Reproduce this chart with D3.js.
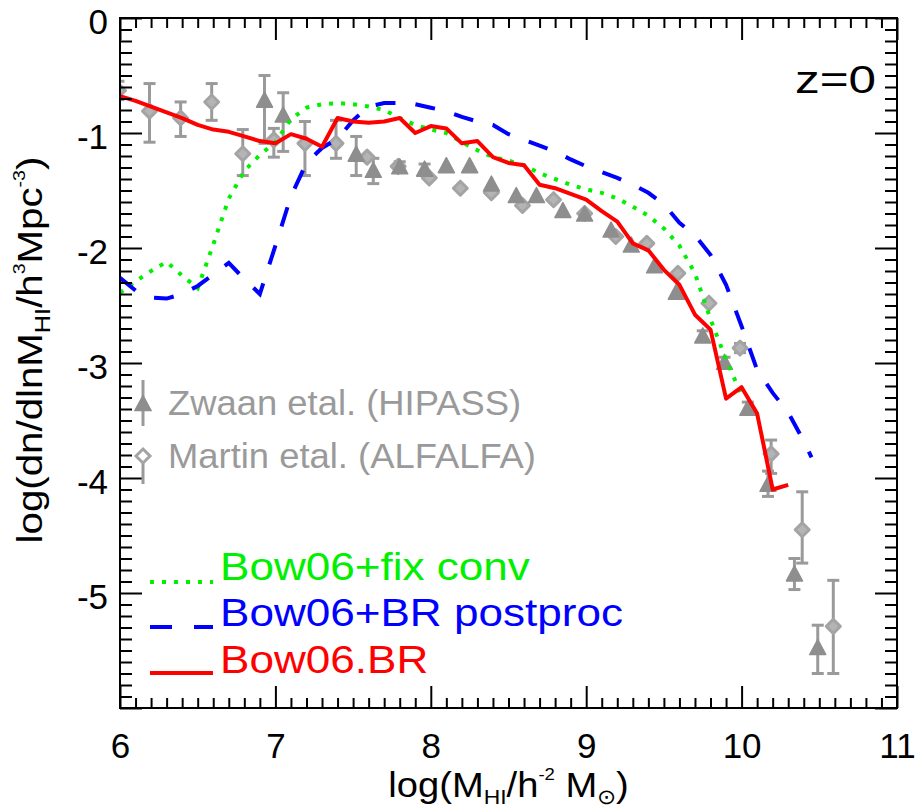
<!DOCTYPE html>
<html>
<head>
<meta charset="utf-8">
<script src="https://cdn.jsdelivr.net/npm/d3@7"></script>
<style>
  body { margin: 0; background: #fff; }
  svg { display: block; font-family: "Liberation Sans", Arial, Helvetica, sans-serif; }
</style>
</head>
<body>
<svg id="chart" width="915" height="809"></svg>
<script>
// ---- Model HI mass functions (log M_HI, log dn/dlnM) ----
const fixConvMass = [6.0,6.1,6.2,6.3,6.4,6.5,6.6,6.7,6.8,6.9,7.0,7.1,7.2,7.3,7.4,7.5,7.6,7.7,7.8,7.9,
  8.0,8.1,8.2,8.3,8.4,8.5,8.6,8.7,8.8,8.9,9.0,9.1,9.2,9.3,9.4,9.5,9.6,9.7,9.8,9.9,10.0];
const fixConvPhi = [-2.39,-2.29,-2.20,-2.12,-2.24,-2.35,-1.97,-1.57,-1.33,-1.19,-1.08,-0.88,-0.78,-0.75,-0.74,-0.75,-0.77,-0.80,-0.87,-0.93,
  -0.97,-1.00,-1.08,-1.15,-1.21,-1.24,-1.28,-1.35,-1.40,-1.45,-1.49,-1.52,-1.57,-1.64,-1.72,-1.83,-1.98,-2.22,-2.62,-2.97,-3.28];

const postprocMass = [6.0,6.1,6.2,6.3,6.4,6.5,6.6,6.7,6.8,6.9,7.0,7.1,7.2,7.3,7.4,7.5,7.6,7.7,7.8,7.9,
  8.0,8.1,8.2,8.3,8.4,8.5,8.6,8.7,8.8,8.9,9.0,9.1,9.2,9.3,9.4,9.5,9.6,9.7,9.8,9.9,10.0,10.1,10.2,10.3,10.4,10.45];
const postprocPhi = [-2.26,-2.37,-2.43,-2.44,-2.40,-2.33,-2.23,-2.13,-2.27,-2.40,-1.98,-1.55,-1.26,-1.13,-1.05,-0.89,-0.77,-0.74,-0.74,-0.75,
  -0.78,-0.81,-0.86,-0.90,-0.93,-1.01,-1.06,-1.11,-1.16,-1.23,-1.29,-1.34,-1.39,-1.45,-1.52,-1.62,-1.78,-1.89,-2.06,-2.32,-2.68,-3.06,-3.26,-3.43,-3.68,-3.82];

const brMass = [6.0,6.1,6.2,6.3,6.4,6.5,6.6,6.7,6.8,6.9,7.0,7.1,7.2,7.3,7.4,7.5,7.6,7.7,7.8,7.9,
  8.0,8.1,8.2,8.3,8.4,8.5,8.6,8.7,8.8,8.9,9.0,9.1,9.2,9.3,9.4,9.5,9.6,9.7,9.8,9.9,10.0,10.1,10.2,10.3];
const brPhi = [-0.68,-0.72,-0.77,-0.82,-0.87,-0.93,-0.97,-0.99,-1.03,-1.07,-1.09,-1.01,-1.05,-1.12,-0.87,-0.90,-0.91,-0.90,-0.87,-1.00,
  -0.94,-0.96,-1.09,-1.07,-1.21,-1.26,-1.28,-1.45,-1.48,-1.53,-1.58,-1.68,-1.77,-1.96,-2.02,-2.19,-2.32,-2.58,-2.71,-3.31,-3.21,-3.44,-4.10,-4.06];

// ---- Observations: Zwaan et al. (HIPASS) ----
const zwaanMass = [6.93,7.05,7.52,7.63,7.80,7.96,8.10,8.25,8.39,8.55,8.68,8.85,8.99,9.16,9.29,9.44,9.58,9.75,9.89,10.04,10.17,10.34,10.49];
const zwaanPhi  = [-0.71,-0.84,-1.18,-1.32,-1.29,-1.31,-1.28,-1.28,-1.44,-1.54,-1.54,-1.67,-1.70,-1.84,-1.97,-2.15,-2.38,-2.76,-2.99,-3.39,-4.05,-4.83,-5.47];
const zwaanHi   = [-0.50,-0.65,-1.03,-1.22,-1.25,-1.27,-1.25,-1.25,-1.41,-1.51,-1.51,-1.64,-1.67,-1.81,-1.94,-2.12,-2.35,-2.72,-2.95,-3.34,-3.94,-4.70,-5.28];
const zwaanLo   = [-1.09,-1.16,-1.37,-1.44,-1.33,-1.35,-1.31,-1.31,-1.47,-1.57,-1.57,-1.70,-1.73,-1.87,-2.00,-2.18,-2.41,-2.80,-3.03,-3.44,-4.16,-4.97,-5.70];

// ---- Observations: Martin et al. (ALFALFA) ----
const martinMass = [5.99,6.19,6.39,6.59,6.79,6.99,7.19,7.39,7.59,7.79,7.99,8.19,8.39,8.59,8.79,8.99,9.19,9.39,9.59,9.79,9.99,10.19,10.39,10.59];
const martinPhi  = [-0.63,-0.81,-0.87,-0.73,-1.18,-1.06,-1.09,-1.09,-1.21,-1.29,-1.39,-1.48,-1.52,-1.63,-1.58,-1.70,-1.90,-1.96,-2.22,-2.48,-2.87,-3.79,-4.45,-5.29];
const martinHi   = [-0.55,-0.57,-0.73,-0.57,-0.97,-0.96,-0.90,-0.89,-1.18,-1.26,-1.36,-1.45,-1.49,-1.60,-1.55,-1.67,-1.87,-1.93,-2.19,-2.45,-2.83,-3.67,-4.12,-4.89];
const martinLo   = [-0.71,-1.08,-1.03,-0.89,-1.37,-1.21,-1.37,-1.22,-1.24,-1.32,-1.42,-1.51,-1.55,-1.66,-1.61,-1.73,-1.93,-1.99,-2.25,-2.51,-2.91,-3.96,-4.74,-5.70];

// ---- Axis ticks ----
const xMajorTicks = [6, 7, 8, 9, 10, 11];
const yMajorTicks = [0, -1, -2, -3, -4, -5, -6];
const yTickLabels = ["0", "-1", "-2", "-3", "-4", "-5", ""];

(function draw() {
  const svg = d3.select("#chart");
  const pL = 120, pR = 897, pT = 18, pB = 708;

  const x = d3.scaleLinear().domain([6, 11]).range([pL, pR]);
  const y = d3.scaleLinear().domain([-6, 0]).range([pB, pT]);

  const xMinor = d3.range(61, 110).map(v => v / 10).filter(v => v % 1 !== 0);
  const yMinor = d3.range(-59, 0).map(v => v / 10).filter(v => v % 1 !== 0);

  const GRAY_TEXT = "#9a9a9a";
  const TRI = "#8e8e8e";
  const DIA = "#a4a4a4";
  const ERR = "#9a9a9a";

  svg.append("defs").append("clipPath").attr("id", "plotClip")
    .append("rect").attr("x", pL).attr("y", pT).attr("width", pR - pL).attr("height", pB - pT);

  const data = svg.append("g").attr("clip-path", "url(#plotClip)");

  // error bars with caps
  function errorBars(g, xs, lo, hi, color) {
    const eb = g.append("g").attr("stroke", color).attr("stroke-width", 3).attr("fill", "none");
    xs.forEach((m, i) => {
      const px = x(m), y1 = y(hi[i]), y2 = y(lo[i]);
      if (Math.abs(y2 - y1) < 8) return;
      eb.append("line").attr("x1", px).attr("x2", px).attr("y1", y1).attr("y2", y2);
      eb.append("line").attr("x1", px - 6).attr("x2", px + 6).attr("y1", y1).attr("y2", y1);
      eb.append("line").attr("x1", px - 6).attr("x2", px + 6).attr("y1", y2).attr("y2", y2);
    });
  }

  errorBars(data, martinMass, martinLo, martinHi, ERR);
  errorBars(data, zwaanMass, zwaanLo, zwaanHi, ERR);

  const diamondPath = (cx, cy, r) => `M${cx},${cy - r}L${cx + r},${cy}L${cx},${cy + r}L${cx - r},${cy}Z`;
  const trianglePath = (cx, cy, w, h) => `M${cx - w / 2},${cy + h / 2}L${cx + w / 2},${cy + h / 2}L${cx},${cy - h / 2}Z`;

  data.append("g").selectAll("path").data(martinMass).join("path")
    .attr("d", (m, i) => diamondPath(x(m), y(martinPhi[i]), 7))
    .attr("fill", "#b4b4b4").attr("stroke", DIA).attr("stroke-width", 3).attr("stroke-linejoin", "round");

  data.append("g").selectAll("path").data(zwaanMass).join("path")
    .attr("d", (m, i) => trianglePath(x(m), y(zwaanPhi[i]), 16, 15))
    .attr("fill", TRI).attr("stroke", TRI).attr("stroke-width", 1.5).attr("stroke-linejoin", "round");

  // model curves
  const line = d3.line().x(d => x(d[0])).y(d => y(d[1]));
  const zip = (a, b) => a.map((v, i) => [v, b[i]]);

  data.append("path").datum(zip(fixConvMass, fixConvPhi)).attr("d", line)
    .attr("fill", "none").attr("stroke", "#00f000").attr("stroke-width", 4).attr("stroke-dasharray", "4,8");
  data.append("path").datum(zip(postprocMass, postprocPhi)).attr("d", line)
    .attr("fill", "none").attr("stroke", "#0000ff").attr("stroke-width", 4).attr("stroke-dasharray", "20,20");
  data.append("path").datum(zip(brMass, brPhi)).attr("d", line)
    .attr("fill", "none").attr("stroke", "#ff0000").attr("stroke-width", 4).attr("stroke-linejoin", "round");

  // ---- Frame and inward ticks on all four sides ----
  function styleAxis(g) {
    g.select(".domain").remove();
    g.selectAll(".tick line").attr("stroke", "#000").attr("stroke-width", 2);
    g.selectAll(".tick text").attr("fill", "#000").attr("font-size", 35)
      .attr("font-family", "'Liberation Sans', Arial, sans-serif");
  }

  svg.append("g").attr("transform", `translate(0,${pB})`)
    .call(d3.axisBottom(x).tickValues(xMinor).tickSize(-10).tickFormat("")).call(styleAxis);
  svg.append("g").attr("transform", `translate(0,${pB})`)
    .call(d3.axisBottom(x).tickValues(xMajorTicks).tickSize(-22).tickPadding(25).tickFormat(d3.format("d"))).call(styleAxis);
  svg.append("g").attr("transform", `translate(0,${pT})`)
    .call(d3.axisTop(x).tickValues(xMinor).tickSize(-10).tickFormat("")).call(styleAxis);
  svg.append("g").attr("transform", `translate(0,${pT})`)
    .call(d3.axisTop(x).tickValues(xMajorTicks).tickSize(-22).tickFormat("")).call(styleAxis);

  svg.append("g").attr("transform", `translate(${pL},0)`)
    .call(d3.axisLeft(y).tickValues(yMinor).tickSize(-12).tickFormat("")).call(styleAxis);
  const yAx = svg.append("g").attr("transform", `translate(${pL},0)`)
    .call(d3.axisLeft(y).tickValues(yMajorTicks).tickSize(-22).tickPadding(12)
      .tickFormat((d, i) => yTickLabels[i])).call(styleAxis);
  yAx.selectAll(".tick text").attr("dy", "0.45em");
  svg.append("g").attr("transform", `translate(${pR},0)`)
    .call(d3.axisRight(y).tickValues(yMinor).tickSize(-12).tickFormat("")).call(styleAxis);
  svg.append("g").attr("transform", `translate(${pR},0)`)
    .call(d3.axisRight(y).tickValues(yMajorTicks).tickSize(-22).tickFormat("")).call(styleAxis);

  svg.append("rect").attr("x", pL).attr("y", pT).attr("width", pR - pL).attr("height", pB - pT)
    .attr("fill", "none").attr("stroke", "#000").attr("stroke-width", 2);

  // ---- Axis titles (the plotting font runs wider than Liberation Sans, hence the x-stretch) ----
  const xt = svg.append("text").attr("transform", `translate(${(pL + pR) / 2},797) scale(1.09,1)`)
    .attr("text-anchor", "middle").attr("font-size", 35).attr("fill", "#000");
  xt.append("tspan").text("log(M");
  xt.append("tspan").attr("font-size", 21).attr("dy", 7).text("HI");
  xt.append("tspan").attr("dy", -7).text("/h");
  xt.append("tspan").attr("font-size", 17).attr("dy", -17).text("-2");
  xt.append("tspan").attr("dy", 17).text(" M");
  xt.append("tspan").attr("font-size", 21).attr("dy", 7).text("\u2299");
  xt.append("tspan").attr("dy", -7).text(")");

  const yt = svg.append("text").attr("transform", `translate(42,350) rotate(-90) scale(1.15,1)`)
    .attr("text-anchor", "middle").attr("font-size", 35).attr("fill", "#000");
  yt.append("tspan").text("log(dn/dlnM");
  yt.append("tspan").attr("font-size", 22).attr("dy", 8).text("HI");
  yt.append("tspan").attr("dy", -8).text("/h");
  yt.append("tspan").attr("font-size", 17).attr("dy", -17).text("3");
  yt.append("tspan").attr("dy", 17).text("Mpc");
  yt.append("tspan").attr("font-size", 17).attr("dy", -17).text("-3");
  yt.append("tspan").attr("dy", 17).text(")");

  // redshift tag
  svg.append("text").attr("transform", "translate(876,93) scale(1.3,1)").attr("text-anchor", "end")
    .attr("font-size", 38).attr("fill", "#000").text("z=0");

  // ---- Legend: observations ----
  const obsLegend = [
    { label: "Zwaan etal. (HIPASS)", cy: 403, ey1: 380, ey2: 426, shape: "tri", base: 415 },
    { label: "Martin etal. (ALFALFA)", cy: 456, ey1: 450, ey2: 484, shape: "dia", base: 468 }
  ];
  const lg = svg.append("g");
  obsLegend.forEach(d => {
    lg.append("line").attr("x1", 143).attr("x2", 143).attr("y1", d.ey1).attr("y2", d.ey2)
      .attr("stroke", ERR).attr("stroke-width", 3);
    if (d.shape === "tri") {
      lg.append("path").attr("d", trianglePath(143, d.cy, 16, 15)).attr("fill", TRI).attr("stroke", TRI).attr("stroke-width", 1.5);
    } else {
      lg.append("path").attr("d", diamondPath(143, d.cy, 7)).attr("fill", "#fff").attr("stroke", DIA).attr("stroke-width", 3);
    }
    lg.append("text").attr("transform", `translate(168,${d.base}) scale(1.04,1)`)
      .attr("font-size", 35).attr("fill", GRAY_TEXT).text(d.label);
  });

  // ---- Legend: models ----
  const modelLegend = [
    { label: "Bow06+fix conv", color: "#00f000", dash: "4,8", base: 580, ly: 582 },
    { label: "Bow06+BR postproc", color: "#0000ff", dash: "22,22", base: 626, ly: 627 },
    { label: "Bow06.BR", color: "#ff0000", dash: null, base: 673, ly: 673 }
  ];
  modelLegend.forEach(d => {
    lg.append("line").attr("x1", 150).attr("x2", 213).attr("y1", d.ly).attr("y2", d.ly)
      .attr("stroke", d.color).attr("stroke-width", 4).attr("stroke-dasharray", d.dash);
    lg.append("text").attr("transform", `translate(220,${d.base}) scale(1.16,1)`)
      .attr("font-size", 38).attr("fill", d.color).text(d.label);
  });
})();
</script>
</body>
</html>
